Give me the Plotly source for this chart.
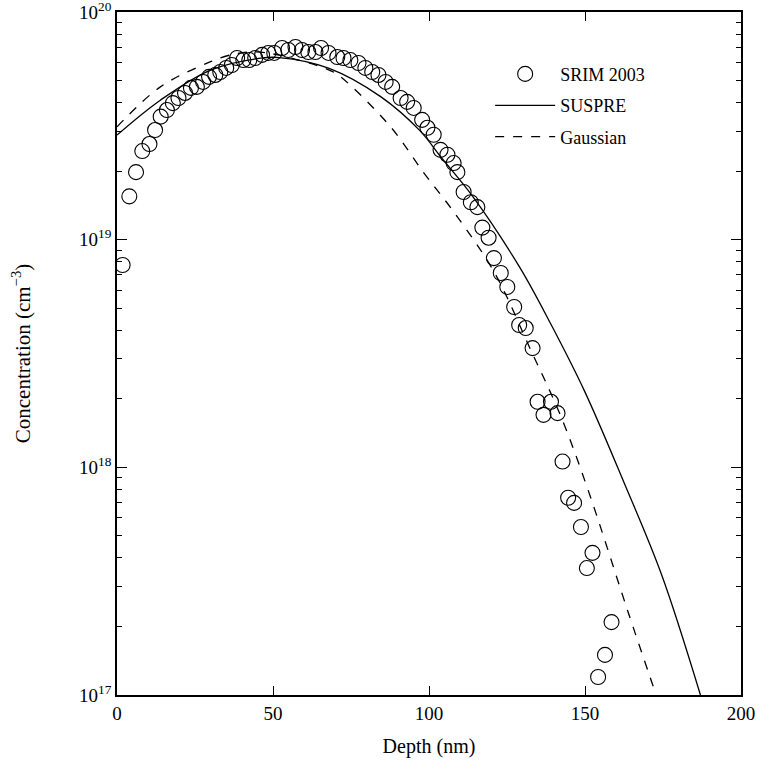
import plotly.graph_objects as go

# SRIM 2003 data (depth nm, concentration cm^-3)
srim_depth = [1.8, 3.95, 6.1, 8.1, 10.4, 12.2, 14.0, 16.0, 17.9, 19.7, 21.8, 23.7, 25.6, 27.6,
              29.5, 31.5, 33.1, 35.0, 36.8, 38.5, 40.5, 42.4, 44.3, 46.5, 48.5, 50.4, 52.9,
              54.9, 57.2, 59.3, 61.3, 63.6, 65.4, 67.8, 70.6, 72.6, 74.8, 77.4, 79.6, 81.8,
              83.8, 86.1, 88.2, 90.9, 93.0, 95.1, 97.8, 99.5, 101.5, 103.7, 105.9, 107.9,
              109.1, 111.1, 113.4, 115.5, 117.1, 119.1, 120.8, 123.0, 125.1, 127.3, 128.9,
              131.0, 133.2, 134.8, 136.7, 139.1, 141.2, 142.8, 144.6, 146.5, 148.7, 150.6,
              152.4, 154.2, 156.4, 158.5]
srim_conc = [7.74e18, 1.55e19, 1.98e19, 2.45e19, 2.63e19, 3.03e19, 3.47e19, 3.71e19, 3.98e19,
             4.19e19, 4.41e19, 4.64e19, 4.69e19, 4.93e19, 5.19e19, 5.29e19, 5.45e19, 5.68e19,
             5.85e19, 6.28e19, 6.15e19, 6.15e19, 6.28e19, 6.48e19, 6.61e19, 6.61e19, 6.95e19,
             6.81e19, 7.02e19, 6.81e19, 6.67e19, 6.67e19, 6.95e19, 6.61e19, 6.34e19, 6.28e19,
             6.15e19, 5.97e19, 5.68e19, 5.45e19, 5.29e19, 4.93e19, 4.69e19, 4.19e19, 4.03e19,
             3.79e19, 3.36e19, 3.10e19, 2.89e19, 2.48e19, 2.36e19, 2.17e19, 1.98e19, 1.62e19,
             1.46e19, 1.39e19, 1.13e19, 1.02e19, 8.3e18, 7.14e18, 6.2e18, 5.06e18, 4.22e18,
             4.09e18, 3.34e18, 1.94e18, 1.70e18, 1.94e18, 1.73e18, 1.06e18, 7.35e17, 6.98e17,
             5.47e17, 3.61e17, 4.21e17, 1.2e17, 1.5e17, 2.09e17]

# SUSPRE curve
suspre_depth = [0, 14, 30, 46, 52, 68, 84.5, 97, 104, 114, 129, 139, 150, 162.6, 174.5, 187]
suspre_conc = [2.88e19, 4.11e19, 5.56e19, 6.27e19, 6.31e19, 5.66e19, 4.25e19, 3.02e19,
               2.29e19, 1.55e19, 7.59e18, 4.27e18, 2.14e18, 8.51e17, 3.39e17, 1.0e17]

# Gaussian curve
gauss_depth = [0, 14, 30, 36, 44, 52, 68, 71.6, 87.7, 98.4, 108, 120.8, 132.6, 142.3, 151,
               163.7, 172.8]
gauss_conc = [3.13e19, 4.70e19, 6.05e19, 6.46e19, 6.68e19, 6.46e19, 5.56e19, 5.20e19,
              3.13e19, 1.96e19, 1.32e19, 7.24e18, 3.28e18, 1.67e18, 7.94e17, 2.34e17, 1.0e17]

xtick_vals = [0, 50, 100, 150, 200]
ytick_vals = [1e17, 1e18, 1e19, 1e20]
ytick_text = ["10<sup>17</sup>", "10<sup>18</sup>", "10<sup>19</sup>", "10<sup>20</sup>"]

FONT = "Liberation Serif"

fig = go.Figure()
fig.add_trace(go.Scatter(x=srim_depth, y=srim_conc, mode="markers", name="SRIM 2003",
                         legendgroup="a",
                         marker=dict(symbol="circle-open", size=15, color="black",
                                     line=dict(width=1.1, color="black"))))
fig.add_trace(go.Scatter(x=suspre_depth, y=suspre_conc, mode="lines", name="SUSPRE",
                         legendgroup="b",
                         line=dict(color="black", width=1.3, shape="spline")))
fig.add_trace(go.Scatter(x=gauss_depth, y=gauss_conc, mode="lines", name="Gaussian",
                         legendgroup="c",
                         line=dict(color="black", width=1.3, dash="dash", shape="spline")))

fig.update_layout(
    width=763, height=765,
    margin=dict(l=117, r=22, t=12, b=70, autoexpand=False),
    paper_bgcolor="white", plot_bgcolor="white",
    font=dict(family=FONT, size=19, color="black"),
    showlegend=True,
    legend=dict(x=0.598, y=0.936, xanchor="left", yanchor="top",
                bgcolor="rgba(0,0,0,0)", borderwidth=0,
                font=dict(family=FONT, size=18), itemwidth=60, tracegroupgap=5),
    xaxis=dict(range=[0, 200], tickvals=xtick_vals, ticks="inside", ticklen=9,
               tickwidth=1.3, tickcolor="black", showline=True, linecolor="black",
               linewidth=1.8, mirror="ticks", showgrid=False, zeroline=False,
               automargin=False, ticklabeloverflow="allow",
               tickfont=dict(family=FONT, size=19),
               title=dict(text="Depth (nm)", font=dict(family=FONT, size=20), standoff=16)),
    yaxis=dict(type="log", range=[17, 20], tickvals=ytick_vals, ticktext=ytick_text,
               ticks="inside", ticklen=10, tickwidth=1.3, tickcolor="black",
               showline=True, linecolor="black", linewidth=1.8, mirror="ticks",
               showgrid=False, zeroline=False, automargin=False,
               ticklabeloverflow="allow",
               tickfont=dict(family=FONT, size=19),
               minor=dict(ticks="inside", ticklen=5, tickwidth=1, tickcolor="black",
                          dtick="D1", showgrid=False),
               title=dict(text="Concentration (cm<sup>−3</sup>)",
                          font=dict(family=FONT, size=21), standoff=43)),
)

fig.write_html("out.html", config={"displayModeBar": False},
               post_script="document.body.style.margin='0';document.body.style.overflow='hidden';")
